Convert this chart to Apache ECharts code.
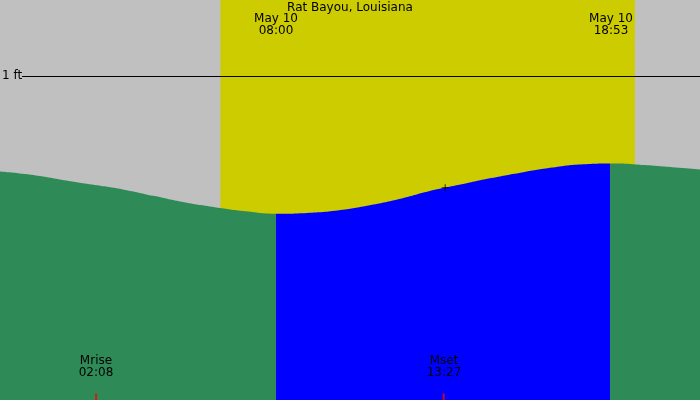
<!DOCTYPE html>
<html>
<head>
<meta charset="utf-8">
<script src="https://cdn.jsdelivr.net/npm/echarts@6/dist/echarts.min.js"></script>
<style>html,body{margin:0;padding:0;background:#c0c0c0}#c{width:700px;height:400px}</style>
</head>
<body>
<div id="c"></div>
<script>
// hours from midnight May 10
var hours = [-1, 0, 1, 2, 3, 4, 5, 6, 7, 8, 9, 10, 11, 12, 13, 14, 15, 16, 17, 18, 19, 20, 21, 22];
var tideFt = [0.41, 0.39, 0.36, 0.33, 0.30, 0.26, 0.22, 0.19, 0.165, 0.15, 0.155, 0.17, 0.20, 0.24, 0.29, 0.33, 0.37, 0.405, 0.435, 0.455, 0.46, 0.45, 0.435, 0.42];
var sunrise = 8.0, sunset = 18.88;       // blue span
var dayStart = 6.18, dayEnd = 19.68;     // yellow span
var moonrise = 2.13, moonset = 13.45;
var title = 'Rat Bayou, Louisiana';
var notes = [
  [276, 13, 'May 10'], [276, 25, '08:00'],
  [611, 13, 'May 10'], [611, 25, '18:53'],
  [96, 355, 'Mrise'], [96, 367, '02:08'],
  [444, 355, 'Mset'], [444, 367, '13:27']
];

var chart = echarts.init(document.getElementById('c'));
var font = 'DejaVu Sans';

function hourLabel(v) {
  var h = ((Math.round(v) % 12) + 12) % 12;
  if (h === 0) h = 12;
  return h < 10 ? '0' + h : String(h);
}

chart.setOption({
  animation: false,
  backgroundColor: '#c0c0c0',
  grid: { left: 0, right: 0, top: 0, bottom: 0, containLabel: false, outerBoundsMode: 'none' },
  xAxis: {
    type: 'value', min: -1, max: 21.8, interval: 1,
    axisLine: { show: false },
    splitLine: { show: false },
    axisTick: { inside: true, length: 7, lineStyle: { color: '#000' } },
    axisLabel: {
      inside: true, margin: 10, color: '#000', fontFamily: font, fontSize: 12,
      showMinLabel: true, showMaxLabel: false, hideOverlap: false, formatter: hourLabel
    }
  },
  yAxis: {
    type: 'value', min: -1, max: 1.469, interval: 1,
    axisLine: { show: false }, axisTick: { show: false }, splitLine: { show: false },
    axisLabel: {
      inside: true, margin: 2, color: '#000', fontFamily: font, fontSize: 12,
      showMaxLabel: false,
      formatter: function (v) { return (v === 0 || v === 1) ? v + ' ft' : ''; }
    }
  },
  visualMap: {
    show: false, type: 'piecewise', dimension: 0, seriesIndex: 1,
    pieces: [
      { lt: sunrise, color: '#2e8b57' },
      { gte: sunrise, lte: sunset, color: '#0000ff' },
      { gt: sunset, color: '#2e8b57' }
    ]
  },
  series: [
    {
      type: 'line', data: [], z: 1, silent: true,
      markArea: {
        silent: true,
        itemStyle: { color: '#cccc00', opacity: 1 },
        data: [[{ xAxis: dayStart, yAxis: -1 }, { xAxis: dayEnd, yAxis: 1.469 }]]
      }
    },
    {
      type: 'line', z: 2, smooth: true, symbol: 'none',
      data: hours.map(function (h, i) { return [h, tideFt[i]]; }),
      lineStyle: { width: 0 },
      areaStyle: { opacity: 1, origin: 'start' }
    },
    {
      type: 'line', data: [], z: 3,
      markLine: {
        silent: true, symbol: 'none', label: { show: false },
        lineStyle: { color: '#000', type: 'solid', width: 1 },
        data: [[{ xAxis: -0.28, yAxis: 1 }, { xAxis: 21.8, yAxis: 1 }]]
      }
    },
    {
      type: 'scatter', z: 4, symbol: 'rect', symbolSize: [2, 7], symbolOffset: [0, -3],
      itemStyle: { color: '#ff0000' },
      data: [[moonrise, -1], [moonset, -1]]
    },
    {
      type: 'scatter', z: 4, symbol: 'path://M0,5L10,5M5,0L5,10', symbolSize: 7,
      itemStyle: { color: 'none', borderColor: '#000', borderWidth: 1 },
      data: [[13.5, 0.31]]
    }
  ],
  graphic: [
    { type: 'text', x: 350, y: 2, z: 100, style: { text: title, align: 'center', fontSize: 12, fontFamily: font, fill: '#000' } }
  ].concat(notes.map(function (n) {
    return { type: 'text', x: n[0], y: n[1], z: 100, style: { text: n[2], align: 'center', fontSize: 12, fontFamily: font, fill: '#000' } };
  }))
});
</script>
</body>
</html>
